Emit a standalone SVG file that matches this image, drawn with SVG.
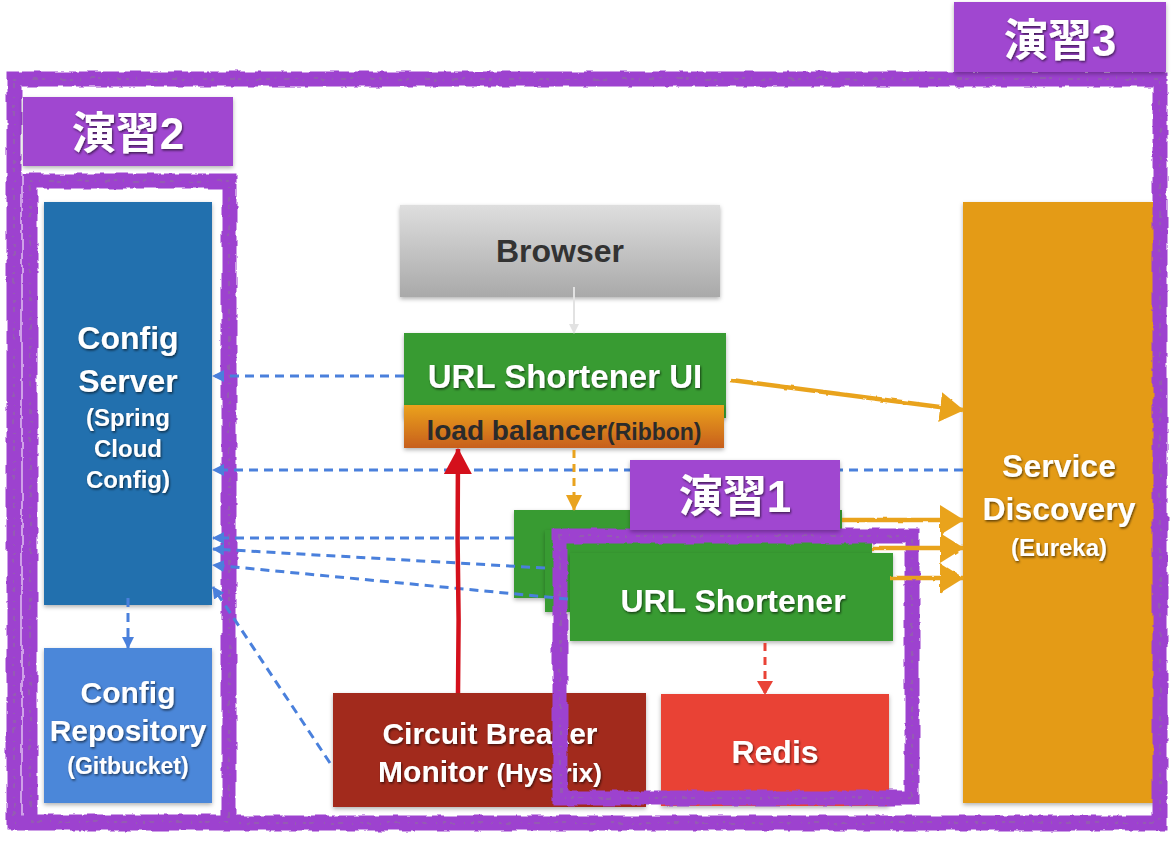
<svg xmlns="http://www.w3.org/2000/svg" width="1176" height="844" viewBox="0 0 1176 844">
<style>
.t{font-family:"Liberation Sans",Arial,sans-serif;font-weight:bold;text-anchor:middle}
.w{fill:#ffffff;filter:url(#tsh)}
.cjk{font-family:"Liberation Sans","Noto Sans CJK JP",sans-serif;font-weight:bold;font-size:44px;text-anchor:middle;fill:#ffffff;filter:url(#tsh)}
.frame{fill:none;stroke:#9d43cf;stroke-width:15;filter:url(#rough)}
.frame2{fill:none;stroke:#8a7a92;stroke-opacity:.45;stroke-width:2;stroke-dasharray:3 6 1 9 5 4;filter:url(#rough)}
.lbl{fill:#a046d0;filter:url(#bsh)}
.box{filter:url(#bsh)}
.blue{fill:none;stroke:#4a80dc;stroke-width:3;stroke-dasharray:9 6;marker-end:url(#mb)}
.orange{fill:none;stroke:#e9a31e;stroke-width:4.5;marker-end:url(#mo);filter:url(#rough2)}
</style>
<defs>
<filter id="rough" filterUnits="userSpaceOnUse" x="0" y="0" width="1176" height="844">
<feTurbulence type="fractalNoise" baseFrequency="0.07" numOctaves="3" seed="4" result="n"/>
<feDisplacementMap in="SourceGraphic" in2="n" scale="5" xChannelSelector="R" yChannelSelector="G"/>
</filter>
<filter id="rough2" filterUnits="userSpaceOnUse" x="0" y="0" width="1176" height="844">
<feTurbulence type="fractalNoise" baseFrequency="0.1" numOctaves="2" seed="7" result="n"/>
<feDisplacementMap in="SourceGraphic" in2="n" scale="2.5" xChannelSelector="R" yChannelSelector="G"/>
</filter>
<filter id="tsh" x="-10%" y="-20%" width="120%" height="150%">
<feDropShadow dx="1" dy="1.5" stdDeviation="1.2" flood-color="#000" flood-opacity="0.6"/>
</filter>
<filter id="bsh" x="-10%" y="-10%" width="120%" height="125%">
<feDropShadow dx="0" dy="2" stdDeviation="2" flood-color="#000" flood-opacity="0.3"/>
</filter>
<linearGradient id="gBrowser" x1="0" y1="0" x2="0" y2="1">
<stop offset="0" stop-color="#dedede"/><stop offset="1" stop-color="#a9a9a9"/>
</linearGradient>
<linearGradient id="gLB" x1="0" y1="0" x2="0" y2="1">
<stop offset="0" stop-color="#eba21c"/><stop offset="1" stop-color="#c75f1c"/>
</linearGradient>
<marker id="mb" markerUnits="userSpaceOnUse" markerWidth="12" markerHeight="12" viewBox="0 0 12 12" refX="11" refY="6" orient="auto">
<path d="M0,0 L12,6 L0,12 Z" fill="#4a80dc"/>
</marker>
<marker id="mo" markerUnits="userSpaceOnUse" markerWidth="24" markerHeight="30" viewBox="0 0 24 30" refX="23" refY="15" orient="auto">
<path d="M0,0 L24,15 L0,30 Z" fill="#e9a31e"/>
</marker>
<marker id="mod" markerUnits="userSpaceOnUse" markerWidth="16" markerHeight="16" viewBox="0 0 16 16" refX="15" refY="8" orient="auto">
<path d="M0,0 L16,8 L0,16 Z" fill="#e9a31e"/>
</marker>
<marker id="mr" markerUnits="userSpaceOnUse" markerWidth="26" markerHeight="28" viewBox="0 0 26 28" refX="25" refY="14" orient="auto">
<path d="M0,0 L26,14 L0,28 Z" fill="#d4101c"/>
</marker>
<marker id="mrd" markerUnits="userSpaceOnUse" markerWidth="14" markerHeight="16" viewBox="0 0 14 16" refX="13" refY="8" orient="auto">
<path d="M0,0 L14,8 L0,16 Z" fill="#e94236"/>
</marker>
<marker id="mg" markerUnits="userSpaceOnUse" markerWidth="10" markerHeight="10" viewBox="0 0 10 10" refX="9" refY="5" orient="auto">
<path d="M0,0 L10,5 L0,10 Z" fill="#e2e2e2"/>
</marker>
</defs>
<rect width="1176" height="844" fill="#ffffff"/>

<g id="config-server">
<rect class="box" x="44" y="202" width="168" height="403" fill="#2270ae"/>
<text class="t w" x="128" y="349" font-size="32">Config</text>
<text class="t w" x="128" y="392" font-size="32">Server</text>
<text class="t w" x="128" y="426" font-size="24">(Spring</text>
<text class="t w" x="128" y="457" font-size="24">Cloud</text>
<text class="t w" x="128" y="488" font-size="24">Config)</text>
</g>
<g id="config-repository">
<rect class="box" x="44" y="648" width="168" height="155" fill="#4b87d9"/>
<text class="t w" x="128" y="703" font-size="30">Config</text>
<text class="t w" x="128" y="741" font-size="30">Repository</text>
<text class="t w" x="128" y="774" font-size="23">(Gitbucket)</text>
</g>
<g id="browser">
<rect class="box" x="400" y="205" width="320" height="92" fill="url(#gBrowser)"/>
<text class="t" x="560" y="262" font-size="32" fill="#333333">Browser</text>
</g>
<g id="url-shortener-ui">
<rect class="box" x="404" y="333" width="322" height="85" fill="#389b31"/>
<text class="t w" x="565" y="388" font-size="33">URL Shortener UI</text>
</g>
<g id="load-balancer">
<rect class="box" x="404" y="405" width="320" height="43" fill="url(#gLB)"/>
<text class="t" x="564" y="440" fill="#2b2b2b"><tspan font-size="28">load balancer</tspan><tspan font-size="23">(Ribbon)</tspan></text>
</g>
<g id="service-discovery">
<rect class="box" x="963" y="202" width="192" height="601" fill="#e49b12"/>
<text class="t w" x="1059" y="477" font-size="32">Service</text>
<text class="t w" x="1059" y="520" font-size="32">Discovery</text>
<text class="t w" x="1059" y="556" font-size="24">(Eureka)</text>
</g>
<g id="url-shortener-3">
<rect class="box" x="514" y="510" width="328" height="88" fill="#389b31"/>
</g>
<g id="url-shortener-2">
<rect class="box" x="545" y="530" width="327" height="82" fill="#389b31"/>
</g>
<g id="url-shortener">
<rect class="box" x="570" y="553" width="323" height="88" fill="#389b31"/>
<text class="t w" x="733" y="612" font-size="32">URL Shortener</text>
</g>
<g id="circuit-breaker-monitor">
<rect class="box" x="333" y="693" width="313" height="114" fill="#a2291f"/>
<text class="t w" x="490" y="744" font-size="30">Circuit Breaker</text>
<text class="t w" x="490" y="782"><tspan font-size="30">Monitor </tspan><tspan font-size="26">(Hystrix)</tspan></text>
</g>
<g id="redis">
<rect class="box" x="661" y="694" width="228" height="112" fill="#e94236"/>
<text class="t w" x="775" y="763" font-size="32">Redis</text>
</g>

<g id="frames">
<rect class="frame" x="14" y="79" width="1146" height="744"/>
<rect class="frame2" x="14" y="79" width="1146" height="744"/>
<rect class="frame" x="30" y="181" width="199" height="641"/>
<rect class="frame2" x="30" y="181" width="199" height="641"/>
<rect class="frame" x="560" y="536" width="352" height="262"/>
<rect class="frame2" x="560" y="536" width="352" height="262"/>
</g>

<g id="connectors">
<path d="M574,287 L574,333" fill="none" stroke="#e2e2e2" stroke-width="2" marker-end="url(#mg)"/>
<path class="blue" d="M404,376 L213,376"/>
<path class="blue" d="M963,470 L213,470"/>
<path class="blue" d="M514,538 L213,538"/>
<path class="blue" d="M545,568 L213,549"/>
<path class="blue" d="M568,599 L213,565"/>
<path class="blue" d="M330,763 L213,587"/>
<path class="blue" d="M128,598 L128,648"/>
<path d="M574,450 L574,510" fill="none" stroke="#e9a31e" stroke-width="3" stroke-dasharray="8 6" marker-end="url(#mod)"/>
<path d="M765,643 L765,694" fill="none" stroke="#e94236" stroke-width="3" stroke-dasharray="8 6" marker-end="url(#mrd)"/>
<path d="M458,693 L458.6,620 L457.6,540 L458,449" fill="none" stroke="#d4101c" stroke-width="4.5" marker-end="url(#mr)"/>
<path class="orange" d="M731,380 L963,410"/>
<path class="orange" d="M842,520 L963,520"/>
<path class="orange" d="M872,548 L963,548"/>
<path class="orange" d="M890,578 L963,578"/>
</g>

<g id="label-1">
<rect class="lbl" x="630" y="460" width="210" height="70"/>
<text class="cjk" x="735" y="512">演習1</text>
</g>
<g id="label-2">
<rect class="lbl" x="23" y="97" width="210" height="69"/>
<text class="cjk" x="128" y="149">演習2</text>
</g>
<g id="label-3">
<rect class="lbl" x="954" y="2" width="212" height="70"/>
<text class="cjk" x="1060" y="56">演習3</text>
</g>
</svg>
